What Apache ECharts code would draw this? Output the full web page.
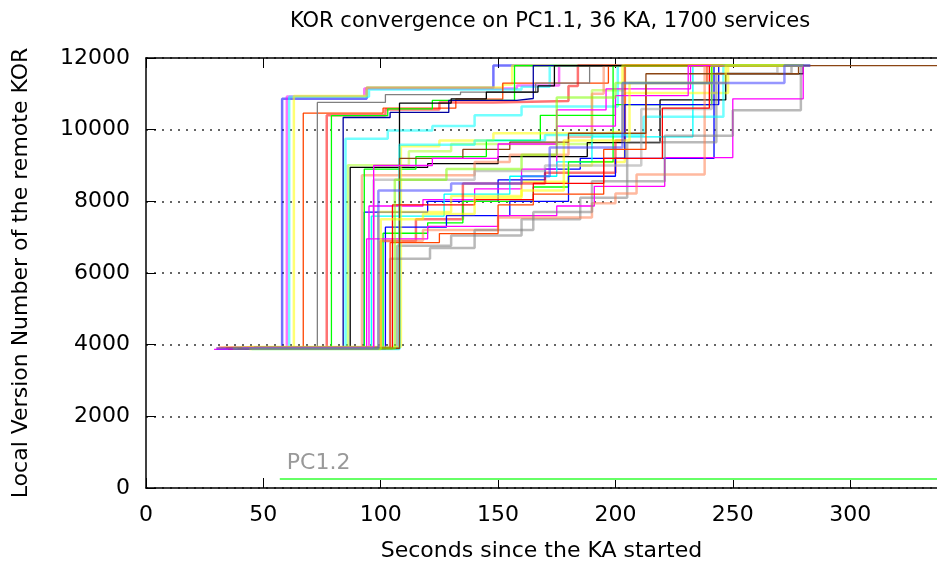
<!DOCTYPE html>
<html>
<head>
<meta charset="utf-8">
<script src="https://cdn.jsdelivr.net/npm/echarts@6/dist/echarts.min.js"></script>
<style>
  html, body { margin: 0; padding: 0; background: #fff; }
  #chart { width: 937px; height: 567px; }
</style>
</head>
<body>
<div id="chart"></div>
<script>
// axis ticks
var xTicks = [0, 50, 100, 150, 200, 250, 300];
var yTicks = [0, 2000, 4000, 6000, 8000, 10000, 12000];

// one step curve per KA: [seconds, version]
var ka01 = [[34,3900],[58,10860],[94,11170],[148,11790],[280,11790]];
var ka02 = [[36,3910],[60,10925],[93,11150],[158,11230],[176,11790],[280,11790]];
var ka03 = [[38,3905],[61,10920],[95,11120],[160,11200],[172,11790],[280,11790]];
var ka04 = [[40,3925],[63,10940],[94,11180],[152,11260],[156,11790],[280,11790]];
var ka05 = [[32,3920],[67,10460],[101,10600],[132,10850],[152,11300],[197,11790],[280,11790]];
var ka06 = [[45,3910],[73,10760],[102,10980],[134,11050],[166,11300],[189,11790],[280,11790]];
var ka07 = [[30,3895],[77,10400],[102,10560],[125,10760],[148,10800],[180,11220],[184,11790],[280,11790]];
var ka08 = [[42,3890],[79,10390],[103,10580],[122,10820],[157,11790],[280,11790]];
var ka09 = [[37,3880],[84,10340],[104,10480],[129,10820],[158,10870],[165,11790],[280,11790]];
var ka10 = [[33,3915],[86,9010],[112,9400],[130,9600],[190,11100],[204,11790],[280,11790]];
var ka11 = [[39,3900],[85,9750],[103,9980],[122,10100],[140,10400],[160,10650],[201,11790],[280,11790]];
var ka12 = [[41,3885],[87,8950],[120,9050],[150,9250],[188,9640],[219,10830],[247,11560],[280,11790]];
var ka13 = [[31,3900],[92,8730],[140,9100],[155,9300],[180,9800],[190,11000],[195,11790],[280,11790]];
var ka14 = [[44,3890],[93,7700],[120,8000],[150,8600],[170,8900],[185,9200],[242,11790],[280,11790]];
var ka15 = [[46,3895],[93,8900],[115,9250],[145,9700],[168,10400],[200,10700],[241,11790],[280,11790]];
var ka16 = [[29,3870],[95,7870],[118,8050],[140,8350],[160,8900],[175,10550],[196,11140],[232,11790],[280,11790]];
var ka17 = [[36,3905],[96,7590],[127,8200],[155,8700],[175,9100],[190,9800],[233,11790],[280,11790]];
var ka18 = [[43,3930],[99,7700],[130,8150],[160,8550],[180,9000],[190,9100],[204,11020],[248,11790],[280,11790]];
var ka19 = [[35,3885],[100,6890],[115,7500],[135,8500],[170,8800],[200,9700],[204,11790],[280,11790]];
var ka20 = [[40,3910],[101,7110],[120,7400],[135,8000],[165,8400],[180,9100],[199,11790],[280,11790]];
var ka21 = [[38,3880],[102,7280],[128,7600],[155,8000],[180,8700],[200,9200],[204,10700],[244,11790],[280,11790]];
var ka22 = [[47,3900],[107,6760],[130,7050],[160,7500],[185,8100],[205,9650],[243,11560],[275,11790],[280,11790]];
var ka23 = [[42,3890],[108,10740],[130,10860],[145,11050],[167,11220],[174,11790],[280,11790]];
var ka24 = [[44,3935],[108.6,9540],[125,9700],[148,9900],[195,9950],[203,11790],[280,11790]];
var ka25 = [[45,3880],[108,9580],[140,9700],[170,9850],[212,10360],[246,11790],[280,11790]];
var ka26 = [[33,3890],[94,6950],[120,7300],[150,7600],[175,7870],[191,8420],[221,9220],[250,10860],[280,11790],[283,11790]];
var ka27 = [[31,3925],[100,6900],[118,7200],[150,7550],[190,7950],[200,8220],[209,8750],[238,11790],[280,11790]];
var ka28 = [[46,3920],[104,6400],[121,6700],[140,7200],[165,7700],[190,8560],[221,9830],[250,10540],[279,11790],[283,11790]];
var ka29 = [[38,3905],[97,8600],[140,8850],[170,9000],[211,10580],[241,11560],[269,11790],[283,11790]];
var ka30 = [[34,3910],[104,6850],[125,7100],[150,7900],[165,8200],[195,9450],[213,11300],[239,11790],[280,11790]];
var ka31 = [[39,3890],[105,7900],[140,8050],[165,8500],[195,9200],[220,10600],[240,11790],[280,11790]];
var ka32 = [[48,3900],[108,9200],[135,9450],[155,9650],[180,9900],[213,11560],[278,11790],[337,11790]];
var ka33 = [[41,3915],[97,9000],[122,9200],[150,9600],[175,10100],[200,10950],[231,11790],[280,11790]];
var ka34 = [[44,3880],[100,7500],[118,7650],[140,8100],[160,8300],[178,9700],[206,11300],[247,11790],[280,11790]];
var ka35 = [[37,3895],[106,8600],[128,8900],[160,9300],[175,10900],[200,11300],[241,11790],[280,11790]];
var ka36 = [[30,3890],[99,8300],[130,8500],[160,8700],[172,9500],[203,11300],[272,11790],[283,11790]];
var pc12 = [[57,250],[337,250]];

var runs = [ka01,ka02,ka03,ka04,ka05,ka06,ka07,ka08,ka09,ka10,ka11,ka12,
            ka13,ka14,ka15,ka16,ka17,ka18,ka19,ka20,ka21,ka22,ka23,ka24,
            ka25,ka26,ka27,ka28,ka29,ka30,ka31,ka32,ka33,ka34,ka35,ka36];
var runColors = ['#0000ff','#ff00ff','#00ffff','#ffff00','#ff4500','#808080','#ff0000','#00ff00','#0000a0',
                 '#adff2f','#00ffff','#000000','#ff7f50','#0000ff','#00ff00','#ff00ff','#00ffff','#ffff00',
                 '#ff0000','#00ff00','#0000ff','#808080','#000000','#ffff00','#00ffff','#ff00ff','#ff7f50',
                 '#808080','#a0a0a0','#ff4500','#ff0000','#8b4513','#ff00ff','#ffff00','#7fff00','#4040ff'];
// 1 = drawn thick and see-through
var runSoft = [1,1,1,1,0,0,1,0,0,1,1,0,1,0,0,0,0,1,1,0,0,1,0,1,1,0,1,1,1,0,0,0,0,1,1,1];

var chart = echarts.init(document.getElementById('chart'));

var series = runs.map(function (d, i) {
  return {
    type: 'line',
    step: 'end',
    data: d,
    symbol: 'none',
    animation: false,
    lineStyle: {
      color: runColors[i],
      width: runSoft[i] ? 2.5 : 1.3,
      opacity: runSoft[i] ? 0.55 : 1
    }
  };
});

series.push({
  type: 'line',
  data: pc12,
  symbol: 'none',
  animation: false,
  lineStyle: { color: '#66ff66', width: 2 },
  markPoint: {
    symbol: 'circle',
    symbolSize: 0,
    data: [{ coord: [60, 250] }],
    label: {
      show: true,
      formatter: 'PC1.2',
      position: 'right',
      distance: 0,
      offset: [0, -16],
      color: '#999999',
      fontSize: 22,
      fontFamily: 'DejaVu Sans'
    }
  }
});

var option = {
  backgroundColor: '#fff',
  title: {
    text: 'KOR convergence on PC1.1, 36 KA, 1700 services',
    left: 545,
    textAlign: 'center',
    top: 6,
    textStyle: { fontFamily: 'DejaVu Sans', fontWeight: 'normal', fontSize: 21, color: '#000' }
  },
  grid: { left: 146, right: 0, top: 58, bottom: 77 },
  xAxis: [{
    type: 'value',
    min: 0,
    max: 337,
    interval: 50,
    name: 'Seconds since the KA started',
    nameLocation: 'middle',
    nameGap: 52,
    nameTextStyle: { fontFamily: 'DejaVu Sans', fontSize: 22, color: '#000' },
    axisLine: { show: true, lineStyle: { color: '#000', width: 1.5 } },
    axisTick: { show: true, inside: true, length: 10, lineStyle: { color: '#000' } },
    axisLabel: {
      fontFamily: 'DejaVu Sans', fontSize: 22, color: '#000', margin: 16,
      showMaxLabel: false,
      formatter: function (v) { return xTicks.indexOf(v) >= 0 ? String(v) : ''; }
    },
    splitLine: { show: false }
  }, {
    type: 'value',
    position: 'top',
    min: 0,
    max: 337,
    interval: 50,
    axisLine: { show: true, lineStyle: { color: '#000', width: 1.5 } },
    axisTick: { show: true, inside: true, length: 10, lineStyle: { color: '#000' } },
    axisLabel: { show: false },
    splitLine: { show: false }
  }],
  yAxis: {
    type: 'value',
    min: 0,
    max: 12000,
    interval: 2000,
    name: 'Local Version Number of the remote KOR',
    nameLocation: 'middle',
    nameGap: 114,
    nameTextStyle: { fontFamily: 'DejaVu Sans', fontSize: 22, color: '#000' },
    axisLine: { show: true, lineStyle: { color: '#000', width: 1.5 } },
    axisTick: { show: true, inside: true, length: 10, lineStyle: { color: '#000' } },
    axisLabel: {
      fontFamily: 'DejaVu Sans', fontSize: 22, color: '#000', margin: 16,
      formatter: function (v) { return yTicks.indexOf(v) >= 0 ? String(v) : ''; }
    },
    splitLine: { show: true, lineStyle: { color: '#333', type: [2, 6], width: 1.5 } }
  },
  series: series
};

chart.setOption(option);
</script>
</body>
</html>
